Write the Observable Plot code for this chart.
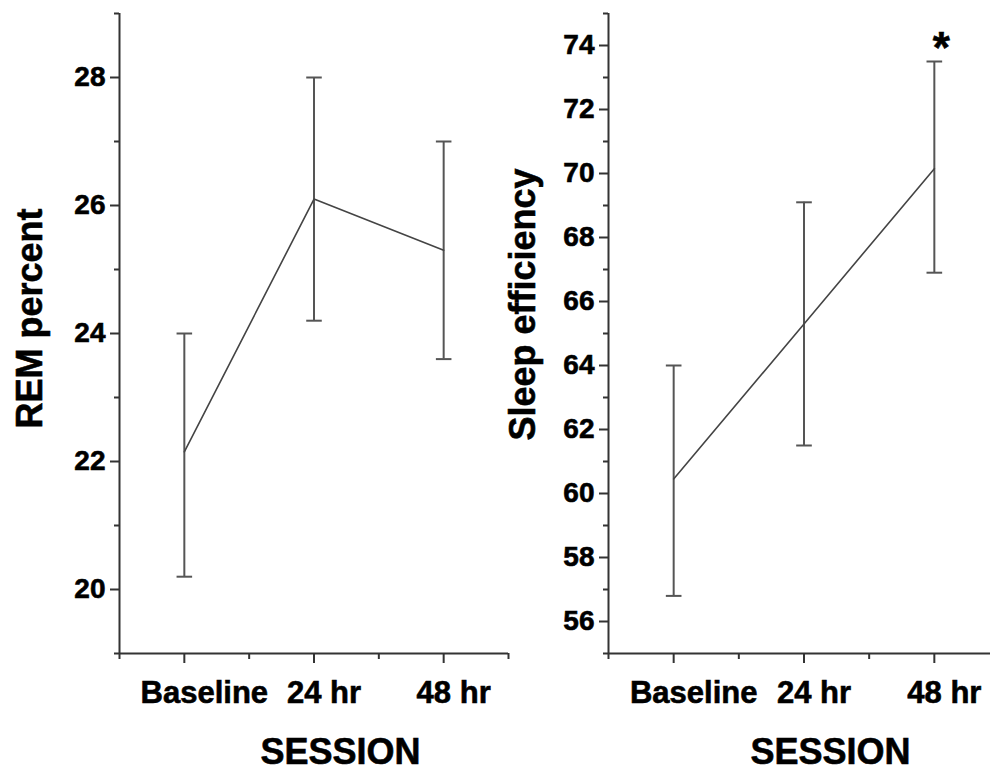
<!DOCTYPE html>
<html><head><meta charset="utf-8">
<script src="https://cdn.jsdelivr.net/npm/d3@7"></script>
<script src="https://cdn.jsdelivr.net/npm/@observablehq/plot@0.6"></script>
<style>
html,body{margin:0;padding:0;background:#fff;overflow:hidden;}
#wrap{position:relative;width:990px;height:773px;overflow:hidden;background:#fff;}
#left,#right{position:absolute;top:0;width:510px;height:773px;}
#left{left:0px;}
#right{left:490px;}
#wrap svg{max-width:none !important;}
#wrap svg text{stroke:#000;stroke-width:0.6px;}
</style></head>
<body><div id="wrap"><div id="left"></div><div id="right"></div></div>
<script>
// ---- data ----
const sessions = ["Baseline", "24 hr", "48 hr"];
const sessionPos = [1, 2, 3];
const xDomain = [0.5, 3.5];
const xMinor = [0.5, 1.5, 2.5, 3.5];

const remMean = [22.15, 26.1, 25.3];
const remLow = [20.2, 24.2, 23.6];
const remHigh = [24.0, 28.0, 27.0];
const remDomain = [19, 29];
const remTicks = [20, 22, 24, 26, 28];
const remMinor = [19, 21, 23, 25, 27, 29];

const sleepMean = [60.45, 65.3, 70.15];
const sleepLow = [56.8, 61.5, 66.9];
const sleepHigh = [64.0, 69.1, 73.5];
const sleepDomain = [55, 75];
const sleepTicks = [56, 58, 60, 62, 64, 66, 68, 70, 72, 74];
const sleepMinor = [55, 57, 59, 61, 63, 65, 67, 69, 71, 73, 75];
const sleepSig = ["", "", "*"];

const FONT = "'Liberation Sans', Arial, Helvetica, sans-serif";

function panel({mean, low, high, domain, ticks, minor, label, labelDx, labelDy, width, marginLeft, marginRight, sig}) {
  const rows = sessions.map((s, i) => ({s, x: sessionPos[i], mean: mean[i], low: low[i], high: high[i], sig: sig ? sig[i] : ""}));
  const cap = 0.06;
  return Plot.plot({
    width, height: 773, marginLeft, marginRight, marginTop: 13, marginBottom: 120,
    style: {fontFamily: FONT, background: "transparent", color: "#000", overflow: "visible"},
    x: {domain: xDomain, axis: null},
    y: {domain: domain, axis: null},
    marks: [
      // axis lines
      Plot.ruleX([xDomain[0]], {stroke: "#333", strokeWidth: 2}),
      Plot.ruleY([domain[0]], {stroke: "#333", strokeWidth: 2}),
      // y ticks
      Plot.axisY({ticks: ticks, tickSize: 9, tickPadding: 5, fontSize: 28, fontWeight: "bold", label: null, stroke: "#333", strokeWidth: 2, fill: "#000"}),
      Plot.axisY({ticks: minor, tickSize: 5, text: null, label: null, stroke: "#333", strokeWidth: 2}),
      // x ticks
      Plot.axisX({ticks: sessionPos, tickSize: 10, text: null, label: null, stroke: "#333", strokeWidth: 2}),
      Plot.axisX({ticks: xMinor, tickSize: 6, text: null, label: null, stroke: "#333", strokeWidth: 2}),
      // x tick labels
      Plot.text(rows, {filter: d => d.x === 1, x: "x", text: "s", frameAnchor: "bottom", lineAnchor: "bottom", textAnchor: "middle", dy: 49, dx: 20, fontSize: 31, fontWeight: "bold", fill: "#000"}),
      Plot.text(rows, {filter: d => d.x !== 1, x: "x", text: "s", frameAnchor: "bottom", lineAnchor: "bottom", textAnchor: "middle", dy: 49, dx: 10, fontSize: 31, fontWeight: "bold", fill: "#000"}),
      // error bars
      Plot.ruleX(rows, {x: "x", y1: "low", y2: "high", stroke: "#555", strokeWidth: 2}),
      Plot.link(rows, {x1: d => d.x - cap, x2: d => d.x + cap, y1: "high", y2: "high", stroke: "#555", strokeWidth: 2}),
      Plot.link(rows, {x1: d => d.x - cap, x2: d => d.x + cap, y1: "low", y2: "low", stroke: "#555", strokeWidth: 2}),
      // mean line
      Plot.line(rows, {x: "x", y: "mean", stroke: "#444", strokeWidth: 1.6}),
      // significance
      Plot.text(rows, {x: "x", y: "high", text: "sig", lineAnchor: "bottom", textAnchor: "middle", dx: 7, dy: 1, fontSize: 44, fontWeight: "bold", fill: "#000"}),
      // axis titles
      Plot.text([label], {frameAnchor: "left", textAnchor: "middle", rotate: -90, dx: labelDx, dy: labelDy, fontSize: 36, fontWeight: "bold", fill: "#000"}),
      Plot.text(["SESSION"], {frameAnchor: "bottom", lineAnchor: "bottom", textAnchor: "middle", dx: 26.5, dy: 110, fontSize: 36, fontWeight: "bold", fill: "#000"})
    ]
  });
}

document.getElementById("left").appendChild(panel({
  mean: remMean, low: remLow, high: remHigh, domain: remDomain, ticks: remTicks, minor: remMinor,
  label: "REM percent", labelDx: -89, labelDy: -15, width: 510, marginLeft: 119, marginRight: 2
}));
document.getElementById("right").appendChild(panel({
  mean: sleepMean, low: sleepLow, high: sleepHigh, domain: sleepDomain, ticks: sleepTicks, minor: sleepMinor,
  label: "Sleep efficiency", labelDx: -85.5, labelDy: -29, width: 510, marginLeft: 118, marginRight: 1, sig: sleepSig
}));
</script>
</body></html>
